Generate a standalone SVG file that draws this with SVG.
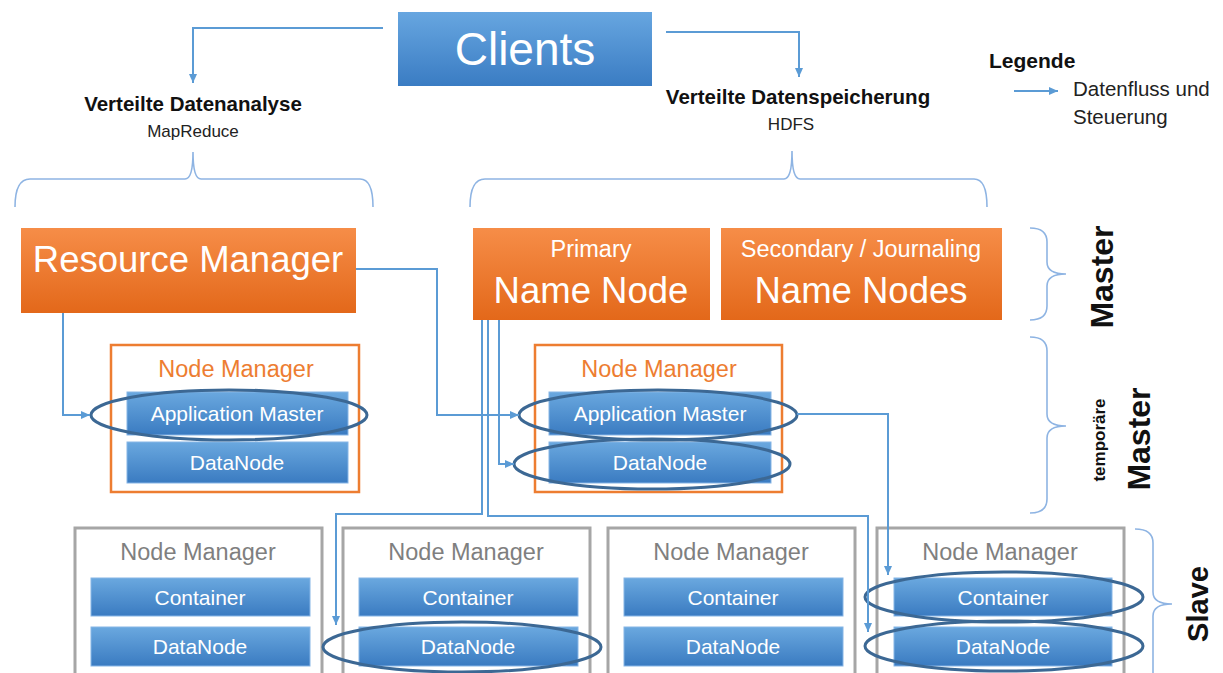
<svg xmlns="http://www.w3.org/2000/svg" width="1223" height="673" viewBox="0 0 1223 673">
  <style>
    text { font-family: "Liberation Sans", Arial, sans-serif; }
    .w { fill: #ffffff; text-anchor: middle; }
    .big { font-size: 36.5px; }
    .mid { font-size: 23.5px; }
    .lbl { font-size: 21px; }
    .nmO { fill: #ed7d31; font-size: 23.5px; text-anchor: middle; }
    .nmG { fill: #7f7f7f; font-size: 23.5px; text-anchor: middle; }
    .hd { font-weight: bold; font-size: 20.5px; fill: #111; text-anchor: middle; }
    .sub { font-size: 17px; fill: #222; text-anchor: middle; }
    .side { font-weight: bold; fill: #111; text-anchor: middle; }
    .orange { fill: url(#gOrange); }
    .blue { fill: url(#gBlue); stroke: #86b5e6; stroke-width: 1; }
    .nmOrange { fill: #ffffff; stroke: #ed7d31; stroke-width: 2.5; }
    .nmGrey { fill: #ffffff; stroke: #a6a6a6; stroke-width: 3; }
    .ring { fill: none; stroke: #3c6894; stroke-width: 3; }
    .brace { fill: none; stroke: #8eb4e3; stroke-width: 1.6; }
    .conn { fill: none; stroke: #5b9bd5; stroke-width: 2; }
  </style>
  <defs>
    <linearGradient id="gOrange" x1="0" y1="0" x2="0" y2="1">
      <stop offset="0" stop-color="#f68d48"/>
      <stop offset="1" stop-color="#e3681a"/>
    </linearGradient>
    <linearGradient id="gBlue" x1="0" y1="0" x2="0" y2="1">
      <stop offset="0" stop-color="#6aa8df"/>
      <stop offset="1" stop-color="#3a7bc1"/>
    </linearGradient>
    <linearGradient id="gClients" x1="0" y1="0" x2="0" y2="1">
      <stop offset="0" stop-color="#67a6e0"/>
      <stop offset="1" stop-color="#3a7cc3"/>
    </linearGradient>
    <marker id="arrow" markerUnits="userSpaceOnUse" markerWidth="9" markerHeight="8" refX="9" refY="4" orient="auto">
      <path d="M0,0 L9,4 L0,8 z" fill="#5b9bd5"/>
    </marker>
  </defs>

  <rect width="1223" height="673" fill="#ffffff"/>

  <!-- clients -->
  <g id="clients">
    <rect x="398" y="12" width="254" height="74" fill="url(#gClients)"/>
    <text class="w" x="525" y="65" font-size="46">Clients</text>
  </g>

  <!-- headings and braces -->
  <g id="mapreduce-label">
    <text class="hd" x="193" y="111">Verteilte Datenanalyse</text>
    <text class="sub" x="193" y="137">MapReduce</text>
    <path class="brace" d="M15,207 Q15,179 30,179 L185,179 Q193,179 193,152 Q193,179 201,179 L360,179 Q373,179 373,207"/>
  </g>
  <g id="hdfs-label">
    <text class="hd" x="798" y="104">Verteilte Datenspeicherung</text>
    <text class="sub" x="791" y="130">HDFS</text>
    <path class="brace" d="M470,207 Q470,179 485,179 L784,179 Q792,179 792,151 Q792,179 800,179 L974,179 Q987,179 987,207"/>
  </g>

  <!-- legend -->
  <g id="legend">
    <text x="989" y="68" font-size="21" font-weight="bold" fill="#111">Legende</text>
    <path class="conn" d="M1014,91 H1058" marker-end="url(#arrow)"/>
    <text x="1073" y="96" font-size="20.5" fill="#222">Datenfluss und</text>
    <text x="1073" y="124" font-size="20.5" fill="#222">Steuerung</text>
  </g>

  <!-- master tier -->
  <g id="resource-manager">
    <rect class="orange" x="21" y="228" width="335" height="85"/>
    <text class="w big" x="188" y="272">Resource Manager</text>
  </g>
  <g id="primary-name-node">
    <rect class="orange" x="473" y="228" width="237" height="92"/>
    <text class="w mid" x="591" y="257">Primary</text>
    <text class="w big" x="591" y="303">Name Node</text>
  </g>
  <g id="secondary-name-nodes">
    <rect class="orange" x="721" y="228" width="281" height="92"/>
    <text class="w mid" x="861" y="257">Secondary / Journaling</text>
    <text class="w big" x="861" y="303">Name Nodes</text>
  </g>

  <!-- temporary master tier -->
  <g id="node-manager-a">
    <rect class="nmOrange" x="111" y="345" width="248" height="147"/>
    <text class="nmO" x="236" y="377">Node Manager</text>
    <rect class="blue" x="127" y="392" width="221" height="43"/>
    <text class="w lbl" x="237" y="421">Application Master</text>
    <rect class="blue" x="127" y="442" width="221" height="41"/>
    <text class="w lbl" x="237" y="470">DataNode</text>
    <ellipse class="ring" cx="229" cy="415" rx="138" ry="25"/>
  </g>
  <g id="node-manager-b">
    <rect class="nmOrange" x="535" y="345" width="247" height="147"/>
    <text class="nmO" x="659" y="377">Node Manager</text>
    <rect class="blue" x="549" y="392" width="222" height="43"/>
    <text class="w lbl" x="660" y="421">Application Master</text>
    <rect class="blue" x="549" y="442" width="222" height="41"/>
    <text class="w lbl" x="660" y="470">DataNode</text>
    <ellipse class="ring" cx="658" cy="415" rx="139" ry="25"/>
    <ellipse class="ring" cx="652" cy="464" rx="138" ry="25"/>
  </g>

  <!-- slave tier -->
  <g id="slave-1">
    <rect class="nmGrey" x="75" y="528" width="247" height="170"/>
    <text class="nmG" x="198" y="560">Node Manager</text>
    <rect class="blue" x="91" y="578" width="219" height="38"/>
    <text class="w lbl" x="200" y="605">Container</text>
    <rect class="blue" x="91" y="627" width="219" height="39"/>
    <text class="w lbl" x="200" y="654">DataNode</text>
  </g>
  <g id="slave-2">
    <rect class="nmGrey" x="343" y="528" width="247" height="170"/>
    <text class="nmG" x="466" y="560">Node Manager</text>
    <rect class="blue" x="359" y="578" width="219" height="38"/>
    <text class="w lbl" x="468" y="605">Container</text>
    <rect class="blue" x="359" y="627" width="219" height="39"/>
    <text class="w lbl" x="468" y="654">DataNode</text>
    <ellipse class="ring" cx="462" cy="647" rx="139" ry="25"/>
  </g>
  <g id="slave-3">
    <rect class="nmGrey" x="608" y="528" width="247" height="170"/>
    <text class="nmG" x="731" y="560">Node Manager</text>
    <rect class="blue" x="624" y="578" width="219" height="38"/>
    <text class="w lbl" x="733" y="605">Container</text>
    <rect class="blue" x="624" y="627" width="219" height="39"/>
    <text class="w lbl" x="733" y="654">DataNode</text>
  </g>
  <g id="slave-4">
    <rect class="nmGrey" x="877" y="528" width="247" height="170"/>
    <text class="nmG" x="1000" y="560">Node Manager</text>
    <rect class="blue" x="894" y="578" width="218" height="38"/>
    <text class="w lbl" x="1003" y="605">Container</text>
    <rect class="blue" x="894" y="627" width="218" height="39"/>
    <text class="w lbl" x="1003" y="654">DataNode</text>
    <ellipse class="ring" cx="1004" cy="597" rx="139" ry="25"/>
    <ellipse class="ring" cx="1004" cy="646" rx="139" ry="25"/>
  </g>

  <!-- tier braces and labels -->
  <g id="tier-master">
    <path class="brace" d="M1030,228 Q1047,228 1047,242 L1047,262 Q1047,274 1066,274 Q1047,274 1047,286 L1047,306 Q1047,320 1030,320"/>
    <text class="side" font-size="32" transform="translate(1113,277) rotate(-90)">Master</text>
  </g>
  <g id="tier-temp-master">
    <path class="brace" d="M1030,337 Q1047,337 1047,351 L1047,414 Q1047,426 1066,426 Q1047,426 1047,438 L1047,499 Q1047,513 1030,513"/>
    <text class="side" font-size="17" transform="translate(1105,440) rotate(-90)">temporäre</text>
    <text class="side" font-size="32" transform="translate(1150,439) rotate(-90)">Master</text>
  </g>
  <g id="tier-slave">
    <path class="brace" d="M1135,529 Q1153,529 1153,543 L1153,592 Q1153,604 1172,604 Q1153,604 1153,616 L1153,690"/>
    <text class="side" font-size="29" transform="translate(1208,604) rotate(-90)">Slave</text>
  </g>

  <!-- data flow and control -->
  <g id="connectors">
    <path class="conn" d="M383,28 H193 V83" marker-end="url(#arrow)"/>
    <path class="conn" d="M666,32 H799 V77" marker-end="url(#arrow)"/>
    <path class="conn" d="M63,313 V415 H90" marker-end="url(#arrow)"/>
    <path class="conn" d="M356,269 H437 V415 H519" marker-end="url(#arrow)"/>
    <path class="conn" d="M499,320 V464 H514" marker-end="url(#arrow)"/>
    <path class="conn" d="M482,320 V514 H336 V625" marker-end="url(#arrow)"/>
    <path class="conn" d="M488,320 V516 H868 V632" marker-end="url(#arrow)"/>
    <path class="conn" d="M797,414 H888 V575" marker-end="url(#arrow)"/>
  </g>
</svg>
